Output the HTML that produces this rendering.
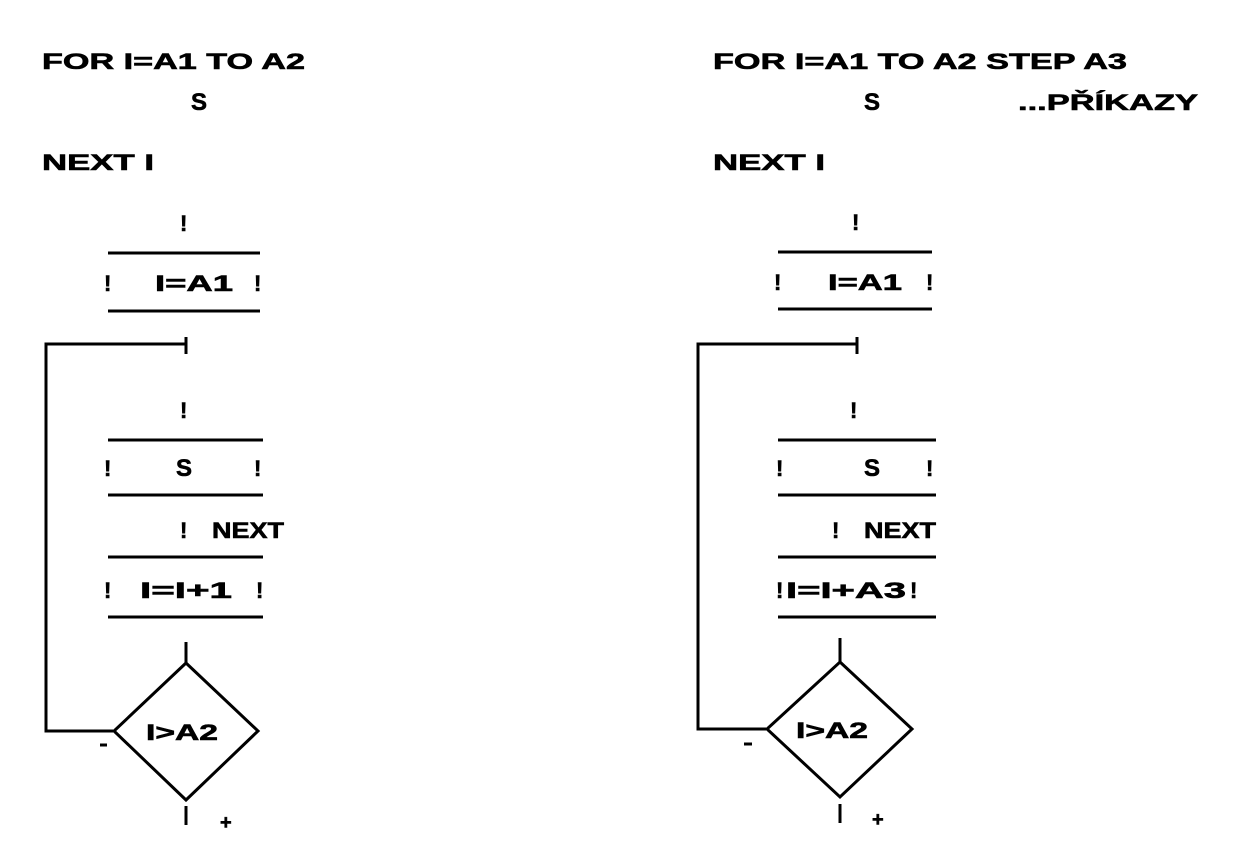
<!DOCTYPE html>
<html><head><meta charset="utf-8"><style>
html,body{margin:0;padding:0;background:#fff;}
svg{display:block;}
text{font-family:"Liberation Sans",sans-serif;font-weight:bold;fill:#000;stroke:#000;stroke-width:0.6;}
</style></head><body>
<svg width="1240" height="865" viewBox="0 0 1240 865" xmlns="http://www.w3.org/2000/svg">
<g font-size="22">
<text x="42" y="69" textLength="263" lengthAdjust="spacingAndGlyphs">FOR I=A1 TO A2</text>
<text x="191" y="110" font-size="24">S</text>
<text x="42" y="170" textLength="112" lengthAdjust="spacingAndGlyphs">NEXT I</text>
<text x="713" y="69" textLength="414" lengthAdjust="spacingAndGlyphs">FOR I=A1 TO A2 STEP A3</text>
<text x="864" y="110" font-size="24">S</text>
<text x="1018" y="110" textLength="180" lengthAdjust="spacingAndGlyphs">...PŘÍKAZY</text>
<text x="713" y="170" textLength="112" lengthAdjust="spacingAndGlyphs">NEXT I</text>
</g>

<!-- LEFT -->
<g stroke="#000" stroke-width="3" fill="none">
<line x1="108" y1="253" x2="260" y2="253"/>
<line x1="108" y1="311" x2="260" y2="311"/>
<polyline points="186,344 46,344 46,731 113,731"/>
<line x1="186" y1="337" x2="186" y2="354"/>
<line x1="108" y1="440" x2="263" y2="440"/>
<line x1="108" y1="495" x2="263" y2="495"/>
<line x1="108" y1="557" x2="263" y2="557"/>
<line x1="108" y1="617" x2="263" y2="617"/>
<line x1="186" y1="642" x2="186" y2="663"/>
<polygon points="186,663 258,731 186,800 114,731"/>
<line x1="186" y1="806" x2="186" y2="825"/>
<line x1="100" y1="745" x2="107" y2="745"/>
</g>
<g font-size="22">
<text x="180" y="231">!</text>
<text x="104" y="291">!</text><text x="155" y="291" textLength="78" lengthAdjust="spacingAndGlyphs">I=A1</text><text x="254" y="291">!</text>
<text x="180" y="418">!</text>
<text x="104" y="476">!</text><text x="176" y="476" font-size="24">S</text><text x="254" y="476">!</text>
<text x="180" y="538">!</text><text x="212" y="538" textLength="72" lengthAdjust="spacingAndGlyphs">NEXT</text>
<text x="104" y="598">!</text><text x="140" y="598" textLength="92" lengthAdjust="spacingAndGlyphs">I=I+1</text><text x="256" y="598">!</text>
<text x="146" y="740" textLength="72" lengthAdjust="spacingAndGlyphs">I&gt;A2</text>
<text x="220" y="829" font-size="20">+</text>
</g>

<!-- RIGHT -->
<g stroke="#000" stroke-width="3" fill="none">
<line x1="778" y1="252" x2="932" y2="252"/>
<line x1="778" y1="309" x2="932" y2="309"/>
<polyline points="857,344 698,344 698,729 766,729"/>
<line x1="857" y1="337" x2="857" y2="354"/>
<line x1="778" y1="440" x2="936" y2="440"/>
<line x1="778" y1="495" x2="936" y2="495"/>
<line x1="778" y1="557" x2="936" y2="557"/>
<line x1="778" y1="617" x2="936" y2="617"/>
<line x1="840" y1="638" x2="840" y2="662"/>
<polygon points="840,662 912,729 840,797 767,729"/>
<line x1="840" y1="804" x2="840" y2="823"/>
<line x1="744" y1="744" x2="752" y2="744"/>
</g>
<g font-size="22">
<text x="852" y="230">!</text>
<text x="774" y="290">!</text><text x="828" y="290" textLength="74" lengthAdjust="spacingAndGlyphs">I=A1</text><text x="926" y="290">!</text>
<text x="850" y="418">!</text>
<text x="776" y="476">!</text><text x="864" y="476" font-size="24">S</text><text x="926" y="476">!</text>
<text x="832" y="538">!</text><text x="864" y="538" textLength="72" lengthAdjust="spacingAndGlyphs">NEXT</text>
<text x="776" y="598">!</text><text x="786" y="598" textLength="120" lengthAdjust="spacingAndGlyphs">I=I+A3</text><text x="910" y="598">!</text>
<text x="796" y="738" textLength="72" lengthAdjust="spacingAndGlyphs">I&gt;A2</text>
<text x="872" y="826" font-size="20">+</text>
</g>
</svg>
</body></html>
